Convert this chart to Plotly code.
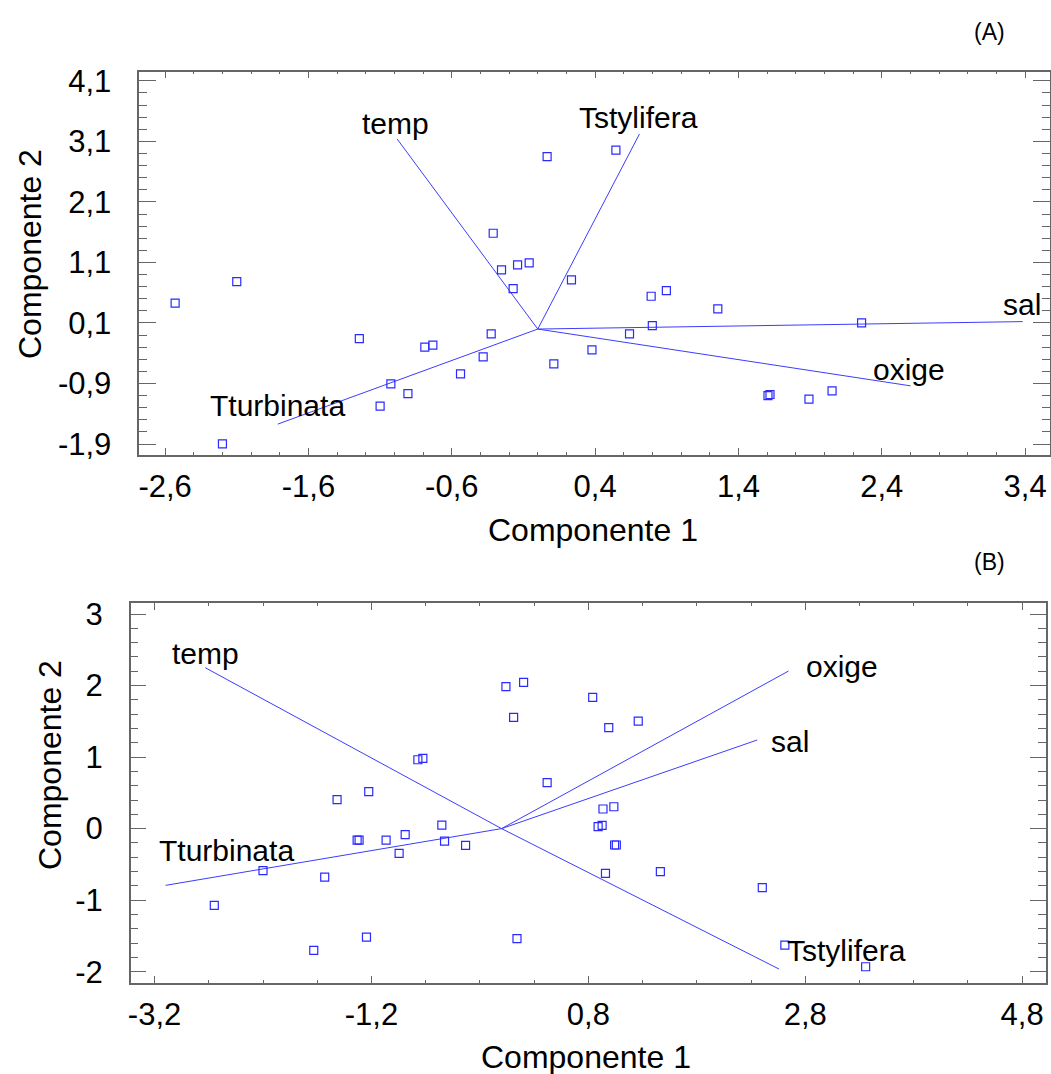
import plotly.graph_objects as go

# ---------------- Panel A data ----------------
a_pts_x = [-2.53, -2.10, -2.20, -1.245, -1.10, -1.025, -0.906, -0.788, -0.732, -0.539,
           -0.381, -0.325, -0.311, -0.253, -0.141, -0.06, -0.172, 0.065, 0.112, 0.235,
           0.378, 0.545, 0.640, 0.791, 0.897, 0.799, 1.256, 2.259, 1.606, 1.620, 1.892, 2.053]
a_pts_y = [0.427, 0.783, -1.895, -0.157, -1.273, -0.905, -1.065, -0.30, -0.266, -0.74,
           -0.459, -0.08, 1.582, 0.976, 1.059, 1.092, 0.668, 2.846, -0.575, 0.811,
           -0.344, 2.956, -0.08, 0.542, 0.635, 0.057, 0.333, 0.102, -1.098, -1.081, -1.157, -1.02]
a_vars = ["temp", "Tstylifera", "sal", "oxige", "Tturbinata"]
a_vec_x = [-0.981, 0.709, 3.383, 2.601, -1.814]
a_vec_y = [3.138, 3.22, 0.123, -0.938, -1.57]
a_lab_x = [-0.99, 0.70, 3.378, 2.591, -1.816]
a_lab_y = [3.40, 3.50, 0.40, -0.674, -1.27]
a_xticks = [-2.6, -1.6, -0.6, 0.4, 1.4, 2.4, 3.4]
a_xticktext = ["-2,6", "-1,6", "-0,6", "0,4", "1,4", "2,4", "3,4"]
a_yticks = [-1.9, -0.9, 0.1, 1.1, 2.1, 3.1, 4.1]
a_yticktext = ["-1,9", "-0,9", "0,1", "1,1", "2,1", "3,1", "4,1"]

# ---------------- Panel B data ----------------
b_pts_x = [-2.649, -2.2, -1.631, -1.732, -1.517, -1.225, -1.246, -1.332, -1.314, -1.065,
           -0.889, -0.945, -0.772, -0.726, -0.551, -0.526, -0.332, 0.04, 0.203, 0.111,
           0.142, 0.420, 0.840, 0.988, 1.260, 0.935, 1.035, 0.890, 0.927, 1.042,
           1.058, 0.958, 1.464, 2.404, 2.612, 3.357]
b_pts_y = [-1.073, -0.588, -0.677, -1.702, 0.404, 0.516, -1.516, -0.160, -0.160, -0.160,
           -0.085, -0.346, 0.963, 0.982, 0.05, -0.174, -0.234, 1.984, 2.045, 1.556,
           -1.539, 0.642, 1.835, 1.411, 1.504, 0.274, 0.306, 0.027, 0.045, -0.229,
           -0.229, -0.626, -0.602, -0.826, -1.628, -1.931]
b_vars = ["temp", "Tturbinata", "oxige", "sal", "Tstylifera"]
b_vec_x = [-2.732, -3.098, 2.646, 2.357, 2.558]
b_vec_y = [2.249, -0.793, 2.203, 1.239, -1.963]
b_lab_x = [-2.726, -2.534, 3.135, 2.661, 3.176]
b_lab_y = [2.455, -0.299, 2.273, 1.224, -1.697]
b_xticks = [-3.2, -1.2, 0.8, 2.8, 4.8]
b_xticktext = ["-3,2", "-1,2", "0,8", "2,8", "4,8"]
b_yticks = [-2, -1, 0, 1, 2, 3]
b_yticktext = ["-2", "-1", "0", "1", "2", "3"]

FONT = "Liberation Sans, Arial, sans-serif"
LINE_C = "#3c3cff"
MARK_C = "#2a2aff"
FRAME_C = "#666666"

fig = go.Figure()


def add_panel(px, py, vx, vy, xa, ya):
    lx, ly = [], []
    for x, y in zip(vx, vy):
        lx += [0, x, None]
        ly += [0, y, None]
    fig.add_trace(go.Scatter(x=lx, y=ly, mode="lines", xaxis=xa, yaxis=ya,
                             line=dict(color=LINE_C, width=1), hoverinfo="skip",
                             showlegend=False))
    fig.add_trace(go.Scatter(x=px, y=py, mode="markers", xaxis=xa, yaxis=ya,
                             marker=dict(symbol="square-open", size=8, color=MARK_C,
                                         line=dict(width=1.2, color=MARK_C)),
                             showlegend=False))


add_panel(a_pts_x, a_pts_y, a_vec_x, a_vec_y, "x", "y")
add_panel(b_pts_x, b_pts_y, b_vec_x, b_vec_y, "x2", "y2")

W, H = 1051, 1074


def xdom(l, r):
    return [l / W, r / W]


def ydom(t, b):
    return [1 - b / H, 1 - t / H]


def axis_common(major_len, minor_len, standoff, tickvals, ticktext, rng, dom, minor_dtick, minor_tick0, anchor):
    return dict(
        range=rng, domain=dom, anchor=anchor, automargin=False,
        showline=True, linecolor=FRAME_C, linewidth=1.5, mirror="allticks",
        ticks="inside", ticklen=major_len, tickwidth=1, tickcolor=FRAME_C,
        tickmode="array", tickvals=tickvals, ticktext=ticktext,
        tickfont=dict(family=FONT, size=31, color="black"),
        ticklabelstandoff=standoff,
        minor=dict(ticks="inside", ticklen=minor_len, tickwidth=1, tickcolor=FRAME_C,
                   tick0=minor_tick0, dtick=minor_dtick, showgrid=False),
        showgrid=False, zeroline=False, fixedrange=True,
    )


fig.update_layout(
    template="none",
    width=W, height=H, autosize=False,
    margin=dict(l=0, r=0, t=0, b=0, pad=0),
    paper_bgcolor="white", plot_bgcolor="white",
    font=dict(family=FONT, color="black"),
    xaxis=axis_common(7, 3, 3, a_xticks, a_xticktext, [-2.78, 3.57],
                      xdom(139.3, 1049.5), 0.2, -2.6, "y"),
    yaxis=axis_common(17, 8, 20, a_yticks, a_yticktext, [-2.08, 4.25],
                      ydom(71.7, 455), 0.2, 0.1, "x"),
    xaxis2=axis_common(7, 3, 3, b_xticks, b_xticktext, [-3.42, 5.02],
                       xdom(130.7, 1046), 0.5, -3.2, "y2"),
    yaxis2=axis_common(16, 8, 20, b_yticks, b_yticktext, [-2.154, 3.15],
                       ydom(603.3, 982.7), 0.2, 0, "x2"),
)

ann = []
for name, x, y in zip(a_vars, a_lab_x, a_lab_y):
    ann.append(dict(x=x, y=y, xref="x", yref="y", text=name, showarrow=False,
                    xanchor="center", yanchor="middle",
                    font=dict(family=FONT, size=30, color="black")))
for name, x, y in zip(b_vars, b_lab_x, b_lab_y):
    ann.append(dict(x=x, y=y, xref="x2", yref="y2", text=name, showarrow=False,
                    xanchor="center", yanchor="middle",
                    font=dict(family=FONT, size=30, color="black")))

# axis titles and panel letters
titles = [
    ("Componente 1", 593, 530, 0),
    ("Componente 2", 30, 254, -90),
    ("Componente 1", 586, 1057, 0),
    ("Componente 2", 50, 765, -90),
]
for txt, x, y, ang in titles:
    ann.append(dict(x=x / W, y=1 - y / H, xref="paper", yref="paper", text=txt,
                    showarrow=False, xanchor="center", yanchor="middle", textangle=ang,
                    font=dict(family=FONT, size=32, color="black")))
for txt, x, y in [("(A)", 989, 31.7), ("(B)", 989, 561.7)]:
    ann.append(dict(x=x / W, y=1 - y / H, xref="paper", yref="paper", text=txt,
                    showarrow=False, xanchor="center", yanchor="middle",
                    font=dict(family=FONT, size=23, color="black")))
fig.update_layout(annotations=ann)

fig.write_html("out.html", config={"displayModeBar": False},
               post_script="document.body.style.margin='0';document.body.style.overflow='hidden';")
